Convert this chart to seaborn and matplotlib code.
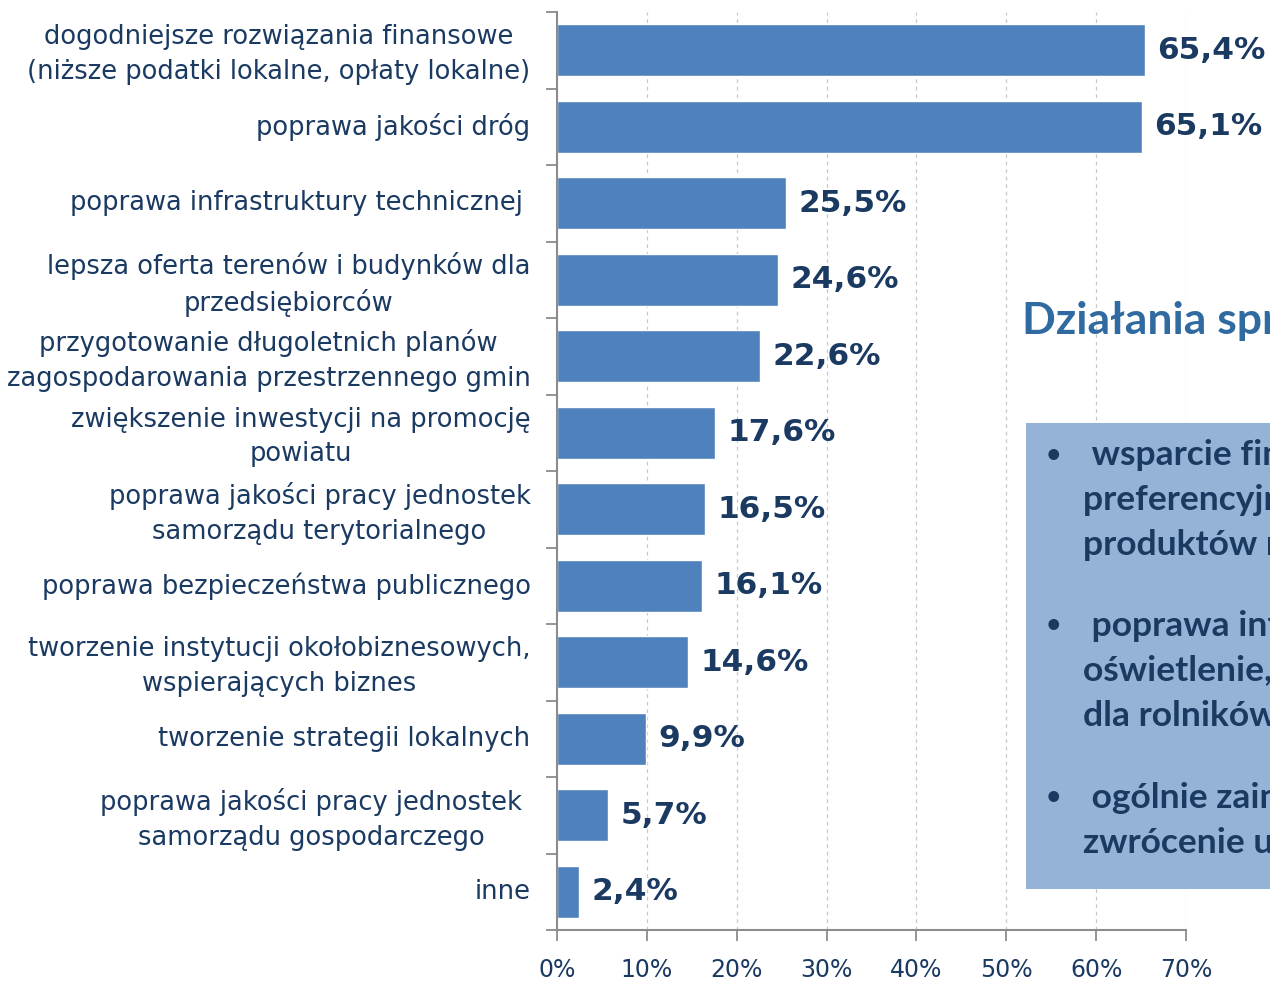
import matplotlib
matplotlib.use("Agg")
import matplotlib.pyplot as plt
from matplotlib.patches import Rectangle
from matplotlib.transforms import ScaledTranslation
import seaborn as sns
import pandas as pd

# Categories and their shares (%)
categories = [
    "dogodniejsze rozwiązania finansowe\n(niższe podatki lokalne, opłaty lokalne)",
    "poprawa jakości dróg",
    "poprawa infrastruktury technicznej ",
    "lepsza oferta terenów i budynków dla\nprzedsiębiorców",
    "przygotowanie długoletnich planów\nzagospodarowania przestrzennego gmin",
    "zwiększenie inwestycji na promocję\npowiatu",
    "poprawa jakości pracy jednostek\nsamorządu terytorialnego",
    "poprawa bezpieczeństwa publicznego",
    "tworzenie instytucji okołobiznesowych,\nwspierających biznes",
    "tworzenie strategii lokalnych",
    "poprawa jakości pracy jednostek \nsamorządu gospodarczego ",
    "inne",
]
values = [65.4, 65.1, 25.5, 24.6, 22.6, 17.6, 16.5, 16.1, 14.6, 9.9, 5.7, 2.4]
x_ticks = [0, 10, 20, 30, 40, 50, 60, 70]
x_tick_labels = ["0%", "10%", "20%", "30%", "40%", "50%", "60%", "70%"]

side_title = "Działania sprzyjające rozwojowi"
side_bullets = [
    " wsparcie finansowe,\npreferencyjne kredyty,\nproduktów rolnych",
    " poprawa infrastruktury,\noświetlenie, drogi,\ndla rolników",
    " ogólnie zainteresowanie,\nzwrócenie uwagi",
]

BAR = "#4F81BD"
NAVY = "#1B3A62"
AXIS = "#8C8C8C"

df = pd.DataFrame({"category": categories, "value": values})

sns.set_style("white")
plt.rcParams["font.family"] = ["DejaVu Sans"]

fig = plt.figure(figsize=(12.7, 9.83), dpi=100)
ax = fig.add_axes([557 / 1270, 1 - 930 / 983, (1186 - 557) / 1270, (930 - 12) / 983])

sns.barplot(data=df, x="value", y="category", orient="h", color=BAR,
            saturation=1, width=0.68, ax=ax, zorder=2)

ax.set_xlim(0, 70)
ax.set_ylim(len(categories) - 0.5, -0.5)
ax.set_xlabel("")
ax.set_ylabel("")

# dashed vertical gridlines
for t in x_ticks[1:]:
    ax.axvline(t, color="#C8C8C8", lw=0.9, ls=(0, (3, 3)), zorder=0)

ax.set_xticks(x_ticks)
ax.set_xticklabels(x_tick_labels, fontsize=17, color=NAVY)
ax.tick_params(axis="x", bottom=True, length=8, width=1.3, color=AXIS, pad=12,
               direction="out")

# category labels at centres, tick marks at boundaries
ax.set_yticks(range(len(categories)))
ax.set_yticklabels(categories, fontsize=18.5, color=NAVY, linespacing=1.42,
                   multialignment="center")
ax.tick_params(axis="y", which="major", left=True, length=0, pad=19)
ax.set_yticks([i - 0.5 for i in range(len(categories) + 1)], minor=True)
ax.tick_params(axis="y", which="minor", left=True, length=8, width=1.3,
               color=AXIS, direction="out")
nudge = ScaledTranslation(0, 3 / 100, fig.dpi_scale_trans)
for lbl in ax.get_yticklabels():
    lbl.set_transform(lbl.get_transform() + nudge)

for side in ["top", "right"]:
    ax.spines[side].set_visible(False)
for side in ["left", "bottom"]:
    ax.spines[side].set_color(AXIS)
    ax.spines[side].set_linewidth(1.5)

labels = [f"{v:.1f}%".replace(".", ",") for v in values]
ax.bar_label(ax.containers[0], labels=labels, padding=9, fontsize=22.5,
             fontweight="bold", color=NAVY)

# side panel
fig.text(1022 / 1270, 1 - 321 / 983, side_title, ha="left", va="center",
         fontsize=32, fontweight="bold", color="#2F6AA0", family="Lato")

box = Rectangle((1026 / 1270, 1 - 889 / 983), 0.3, (889 - 423) / 983,
                transform=fig.transFigure, facecolor="#95B3D7", edgecolor="none",
                zorder=5)
fig.add_artist(box)

bullet_y = [457, 628, 800]
for yb, txt in zip(bullet_y, side_bullets):
    fig.text(1053 / 1270, 1 - yb / 983, "•", ha="center", va="center",
             fontsize=22, fontweight="bold", color=NAVY, zorder=6)
    fig.text(1083 / 1270, 1 - (yb - 18) / 983, txt, ha="left", va="top",
             fontsize=25.5, fontweight="bold", color=NAVY, family="Lato",
             linespacing=1.5, zorder=6)

fig.savefig("out.png", dpi=100, facecolor="white")
